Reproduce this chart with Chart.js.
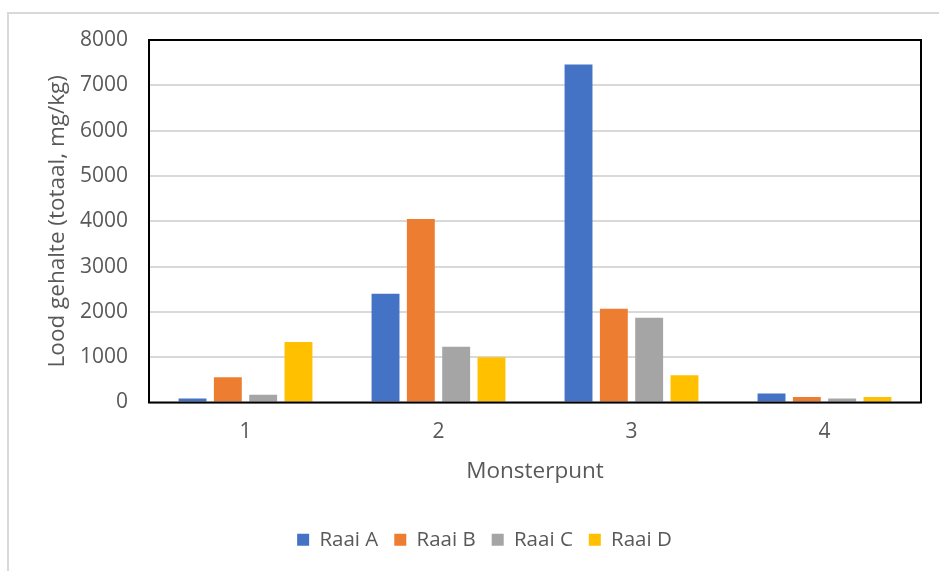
<!DOCTYPE html>
<html>
<head>
<meta charset="utf-8">
<script src="https://cdn.jsdelivr.net/npm/chart.js@4/dist/chart.umd.min.js"></script>
<style>
  html, body { margin: 0; padding: 0; background: #ffffff; }
  #wrap { position: relative; width: 939px; height: 571px; overflow: hidden; }
  canvas { display: block; }
</style>
</head>
<body>
<div id="wrap"><canvas id="chart" width="939" height="571"></canvas></div>
<script>
// Lead content (total, mg/kg) per sampling point, for each transect
const categories = ['1', '2', '3', '4'];
const raaiA = [90, 2400, 7460, 200];
const raaiB = [560, 4050, 2070, 120];
const raaiC = [170, 1230, 1870, 90];
const raaiD = [1335, 1000, 600, 120];
const seriesNames = ['Raai A', 'Raai B', 'Raai C', 'Raai D'];
const seriesColors = ['#4472C4', '#ED7D31', '#A5A5A5', '#FFC000'];
const yTicks = [0, 1000, 2000, 3000, 4000, 5000, 6000, 7000, 8000];

const FONT = '"Open Sans", "Noto Sans", sans-serif';
const TEXT = '#595959';

// Light frame around the whole chart and a black box around the plot area;
// the legend is centred on the full (wider) chart frame
const framePlugin = {
  id: 'frame',
  afterLayout(chart) {
    if (chart.legend) {
      chart.legend.left += 24;
      chart.legend.right += 24;
    }
  },
  beforeDraw(chart) {
    const ctx = chart.ctx;
    ctx.save();
    ctx.fillStyle = '#ffffff';
    ctx.fillRect(0, 0, chart.width, chart.height);
    ctx.strokeStyle = '#d9d9d9';
    ctx.lineWidth = 2;
    ctx.strokeRect(8, 13, chart.width + 20, chart.height + 20);
    ctx.restore();
  },
  afterDatasetsDraw(chart) {
    const a = chart.chartArea;
    const ctx = chart.ctx;
    ctx.save();
    ctx.strokeStyle = '#000000';
    ctx.lineWidth = 2;
    ctx.strokeRect(a.left, a.top, a.right - a.left, a.bottom - a.top);
    ctx.restore();
  }
};

const datasets = [raaiA, raaiB, raaiC, raaiD].map((vals, i) => ({
  label: seriesNames[i],
  data: vals,
  backgroundColor: seriesColors[i],
  borderWidth: 0,
  categoryPercentage: 0.732,
  barPercentage: 0.79
}));

new Chart(document.getElementById('chart'), {
  type: 'bar',
  data: { labels: categories, datasets },
  plugins: [framePlugin],
  options: {
    responsive: false,
    animation: false,
    layout: { padding: { left: 0, top: 40, right: 18, bottom: 11 } },
    plugins: {
      tooltip: { enabled: false },
      legend: {
        position: 'bottom',
        labels: {
          boxWidth: 12,
          boxHeight: 12,
          padding: 16,
          color: TEXT,
          font: { family: FONT, size: 20.5 }
        }
      }
    },
    scales: {
      x: {
        grid: { display: false, drawTicks: false },
        border: { display: false },
        ticks: { color: TEXT, padding: 17, font: { family: FONT, size: 21 } },
        title: {
          display: true,
          text: 'Monsterpunt',
          color: TEXT,
          padding: { top: 0, bottom: 28 },
          font: { family: FONT, size: 22.5 }
        },
        afterFit(scale) { scale.height = 111; }
      },
      y: {
        min: 0,
        max: 8000,
        afterBuildTicks(scale) { scale.ticks = yTicks.map(v => ({ value: v })); },
        grid: { color: '#d9d9d9', lineWidth: 2, drawTicks: false },
        border: { display: false },
        ticks: {
          color: TEXT,
          padding: 21,
          font: { family: FONT, size: 21 },
          callback: v => String(v)
        },
        title: {
          display: true,
          text: 'Lood gehalte (totaal, mg/kg)',
          color: TEXT,
          padding: { top: 44, bottom: 0 },
          font: { family: FONT, size: 22.5 }
        },
        afterFit(scale) { scale.width = 149; }
      }
    }
  }
});
</script>
</body>
</html>
